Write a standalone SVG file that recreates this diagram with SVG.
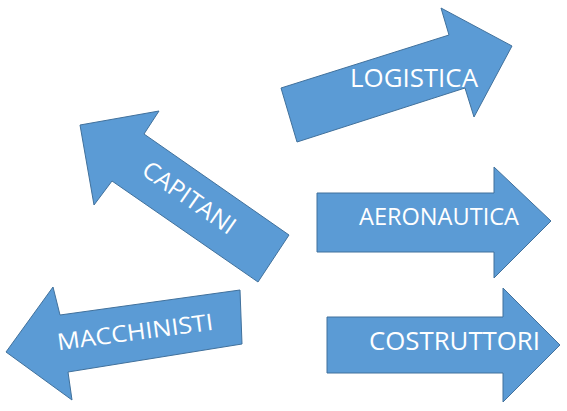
<svg xmlns="http://www.w3.org/2000/svg" width="567" height="411" viewBox="0 0 567 411">
<style>
.arrow{fill:#5b9bd5;stroke:#41719c;stroke-width:1;stroke-linejoin:miter}
.lbl{fill:#ffffff;font-family:"Open Sans","Liberation Sans",sans-serif}
</style>
<rect width="567" height="411" fill="#ffffff"/>
<g id="logistica">
<polygon class="arrow" points="281,88 449,35 441,8 512,46 474,117 465,88 297,142"/>
<text class="lbl" x="350" y="87" font-size="26" textLength="128" lengthAdjust="spacingAndGlyphs">LOGISTICA</text>
</g>
<g id="capitani">
<polygon class="arrow" points="80,125 159,111 144,134 289,235 258,282 112,181 94,205"/>
<text class="lbl" transform="translate(189,198) rotate(35)" x="0" y="8" font-size="24" text-anchor="middle" textLength="108" lengthAdjust="spacingAndGlyphs">CAPITANI</text>
</g>
<g id="macchinisti">
<polygon class="arrow" points="6,352 53,287 60,315 240,290 242,344 68,372 72,400"/>
<text class="lbl" transform="translate(135,332) rotate(-7.5)" x="0" y="8" font-size="23" text-anchor="middle" textLength="157" lengthAdjust="spacingAndGlyphs">MACCHINISTI</text>
</g>
<g id="aeronautica">
<polygon class="arrow" points="317,193 494,193 494,167 551,221 494,278 494,252 317,252"/>
<text class="lbl" x="359" y="225" font-size="24" textLength="160" lengthAdjust="spacingAndGlyphs">AERONAUTICA</text>
</g>
<g id="costruttori">
<polygon class="arrow" points="327,317 503,317 503,288 560,345 503,402 503,373 327,373"/>
<text class="lbl" x="369" y="350" font-size="25" textLength="171" lengthAdjust="spacingAndGlyphs">COSTRUTTORI</text>
</g>
<g id="connectors"/>
</svg>
